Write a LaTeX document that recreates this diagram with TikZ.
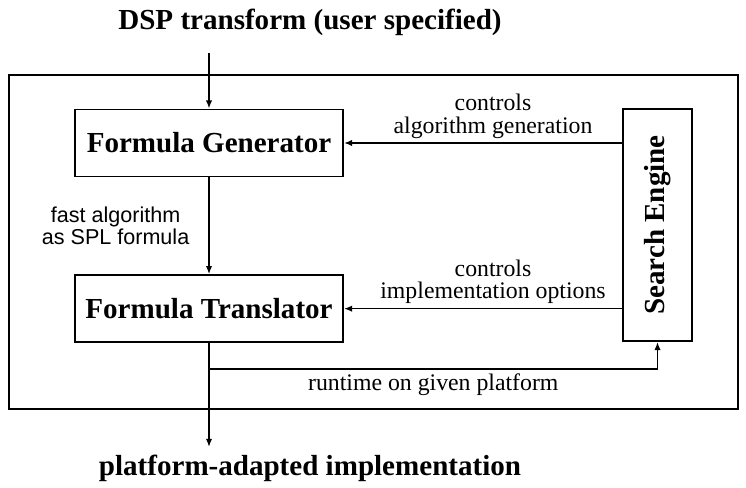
\documentclass[tikz,border=0pt]{standalone}
\usepackage{fontspec}
\setmainfont{Liberation Serif}
\newfontfamily\timesfont{Liberation Serif}
\newfontfamily\helvfont{Liberation Sans}
\usetikzlibrary{arrows.meta, positioning, calc}

\begin{document}
\begin{tikzpicture}[
    every node/.style={font=\fontsize{20.3}{19}\selectfont\timesfont},
    lbl/.style={align=center, font=\fontsize{20.3}{19}\selectfont\timesfont},
    blk/.style={draw, line width=1.6pt, minimum width=8.04cm, minimum height=2.01cm, align=center, font=\fontsize{24.8}{28}\selectfont\bfseries},
    ttl/.style={font=\fontsize{24.8}{28}\selectfont\bfseries},
    arr/.style={-{Latex[length=7pt,width=5.5pt]}, line width=1.4pt}
]
\useasboundingbox (0,0) rectangle (22.38,-14.61);
\draw[line width=2.5pt] (0.27,-2.25) rectangle (22.14,-12.27);

\node[ttl] (spec) at (9.3,-0.66) {DSP transform (user specified)};
\node[ttl] (impl) at (9.3,-14.04) {platform-adapted implementation};
\coordinate (in) at (6.27,-1.6);
\coordinate (out) at (6.27,-13.41);

\node[blk] (gen) at (6.27,-4.29) {Formula Generator};
\node[blk] (trans) at (6.27,-9.26) {Formula Translator};
\node[draw, line width=1.6pt, minimum width=2.07cm, minimum height=6.96cm, font=\fontsize{24.8}{28}\selectfont\bfseries] (search) at (19.725,-6.75) {\rotatebox{90}{Search Engine}};

\draw[arr] (in) -- (gen);
\draw[arr] (gen) -- node[left=0.45cm, align=center, font=\fontsize{18.4}{19}\selectfont\helvfont] {fast algorithm\\as SPL formula} (trans);
\draw[arr] (trans) -- (out);

% feedback from the search engine
\draw[arr] (search.west |- gen.east) -- node[lbl, above, xshift=0.3cm] {controls\\algorithm generation} (gen.east);
\draw[arr] (search.west |- trans.east) -- node[lbl, above, xshift=0.3cm] {controls\\implementation options} (trans.east);

\coordinate (tap) at (6.27,-11.07);
\draw[arr] (tap) -| node[lbl, pos=0.25, below] {runtime on given platform} (search.south);

\end{tikzpicture}
\end{document}
